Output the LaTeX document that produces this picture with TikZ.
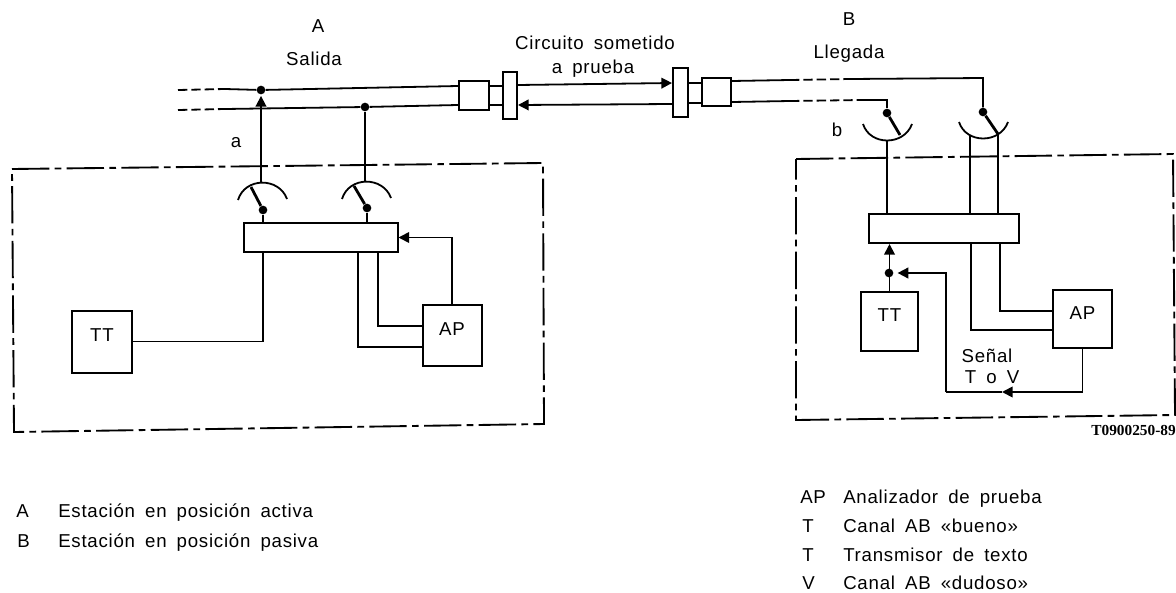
\documentclass[tikz,border=0pt]{standalone}
\usepackage{fontspec}
\setmainfont{Liberation Sans}[LetterSpace=4,WordSpace=1.7]
\newfontfamily\codigofont{Liberation Serif}
\usetikzlibrary{arrows.meta, calc}
\tikzset{
    trazo/.style={line width=1.35pt},
    flecha/.style={line width=1.35pt, -{Triangle[length=8pt,width=8pt]}},
    raya/.style={line width=1.35pt, dash pattern=on 7pt off 3pt},
    marco/.style={line width=1.4pt, dash pattern=on 28pt off 4pt on 5pt off 4pt},
    palanca/.style={line width=2.1pt},
    caja/.style 2 args={draw, line width=1.5pt, inner sep=0pt, minimum width=#1*0.75pt, minimum height=#2*0.75pt},
    cajatexto/.style 2 args={caja={#1}{#2}, font=\fontsize{14}{16}\selectfont, text height=9pt, text depth=9pt},
    punto/.style={circle, fill=black, inner sep=0pt, minimum size=6.5pt},
    rotulo/.style={font=\fontsize{14}{16}\selectfont, inner sep=0pt, anchor=base},
    leyenda/.style={font=\fontsize{14}{16}\selectfont, inner sep=0pt, anchor=base west}
}
\begin{document}
\begin{tikzpicture}[x=0.75pt,y=-0.75pt]
\useasboundingbox (0,0) rectangle (1176,592);
% estaciones
\draw[marco] (12,169) -- (543,163) -- (544,424) -- (14,432) -- cycle;
\draw[marco] (796,159) -- (1173,154) -- (1175,415) -- (796,420) -- cycle;
\node[caja={154}{29}] (cajaA) at (320.5,237.5) {};
\node[caja={150}{29}] (cajaB) at (944,228.5) {};
\node[cajatexto={60}{62}] (ttA) at (102,341.5) {TT};
\node[cajatexto={59}{61}] (apA) at (452,335.5) {AP};
\node[cajatexto={57}{59}] (ttB) at (889.5,321.5) {TT};
\node[cajatexto={59}{58}] (apB) at (1082.5,319) {AP};
% circuito
\node[caja={30}{29}] (conA) at (474,95.5) {};
\node[caja={14}{47}] (barraA) at (510,95.5) {};
\node[caja={15}{49}] (barraB) at (680.5,92.5) {};
\node[caja={29}{28}] (conB) at (716.5,92) {};
\node[punto] (puntoA1) at (261,90) {};
\node[punto] (puntoA2) at (365,107) {};
\node[punto] (pivA1) at (263,210) {};
\node[punto] (pivA2) at (367,208) {};
\node[punto] (pivB1) at (887,113) {};
\node[punto] (pivB2) at (983,112) {};
\node[punto] (puntoB) at (889,273) {};
\coordinate (corteA1) at (225,89);
\coordinate (corteA2) at (225,109);
\coordinate (corteB1) at (790,80);
\coordinate (corteB2) at (790,101);
\coordinate (sigueB1) at (850,79);
\coordinate (sigueB2) at (862,100);
\coordinate (giroB1) at (983,78);
\coordinate (giroB2) at (887,100);
\coordinate (cimaA1) at (261,183);
\coordinate (cimaA2) at (365,182);
\coordinate (fondoB1) at (887,140);
\coordinate (hiloB1) at (970,135);
\coordinate (hiloB2) at (998,134);
\coordinate (medioB) at (1002,392);
\coordinate (giroB) at (946,392);
% lineas
\draw[raya] (178,90) -- (corteA1);
\draw[raya] (178,110) -- (corteA2);
\draw[trazo] (corteA1) -- (puntoA1) -- (conA.west |- 0,86);
\draw[trazo] (corteA2) -- (puntoA2) -- (conA.west |- 0,105);
\draw[trazo] (conA.east |- 0,86) -- (barraA.west |- 0,86);
\draw[trazo] (conA.east |- 0,105) -- (barraA.west |- 0,105);
\draw[flecha] (barraA.east |- 0,85) -- (barraB.west |- 0,83);
\draw[flecha] (barraB.west |- 0,104) -- (barraA.east |- 0,105);
\draw[trazo] (barraB.east |- 0,83) -- (conB.west |- 0,83);
\draw[trazo] (barraB.east |- 0,103) -- (conB.west |- 0,103);
\draw[trazo] (conB.east |- 0,81) -- (corteB1);
\draw[trazo] (conB.east |- 0,102) -- (corteB2);
\draw[raya] (corteB1) -- (sigueB1);
\draw[raya] (corteB2) -- (sigueB2);
\draw[trazo] (sigueB1) -- (giroB1) -- (pivB2);
\draw[trazo] (sigueB2) -- (giroB2) -- (pivB1);
% conmutadores
\foreach \cx/\cy in {262/183, 366/182} {
    \draw[trazo] (\cx-24,\cy+17) .. controls (\cx-17,\cy-6) and (\cx+17,\cy-6) .. (\cx+25,\cy+16);
}
\foreach \cx/\cy in {887/140, 983/138} {
    \draw[trazo] (\cx-24,\cy-16) .. controls (\cx-17,\cy+6) and (\cx+17,\cy+6) .. (\cx+25,\cy-16);
}
\draw[palanca] (pivA1) -- (251,187);
\draw[palanca] (pivA2) -- (354,186);
\draw[palanca] (pivB1) -- (900,135);
\draw[palanca] (pivB2) -- (998,134);
% conexiones
\draw[flecha] (cimaA1) -- ([yshift=-1pt]puntoA1.south);
\draw[trazo] (cimaA2) -- (puntoA2);
\draw[trazo] (pivA1) -- (pivA1 |- cajaA.north);
\draw[trazo] (pivA2) -- (pivA2 |- cajaA.north);
\draw[trazo] (ttA.east) -| (pivA1 |- cajaA.south);
\draw[trazo] ([yshift=7pt]apA.west) -| ([xshift=43pt]cajaA.south);
\draw[trazo] ([yshift=-8.5pt]apA.west) -| ([xshift=28pt]cajaA.south);
\draw[flecha] (apA.north) |- (cajaA.east);
\draw[trazo] (fondoB1) -- (fondoB1 |- cajaB.north);
\draw[trazo] (hiloB1) -- (hiloB1 |- cajaB.north);
\draw[trazo] (hiloB2) -- (hiloB2 |- cajaB.north);
\draw[flecha] (ttB.north) -- (ttB.north |- cajaB.south);
\draw[trazo] ([yshift=6pt]apB.west) -| ([xshift=42pt]cajaB.south);
\draw[trazo] ([yshift=-8pt]apB.west) -| ([xshift=20pt]cajaB.south);
\draw[flecha] (apB.south) |- (medioB);
\draw[trazo] (medioB) -- (giroB);
\draw[flecha] (giroB) |- ([xshift=3pt]puntoB.east);
% rotulos
\node[rotulo] (estA) at (318,33) {A};
\node[rotulo] (salida) at (314,65) {Salida};
\node[rotulo] (circuito) at (595,50) {Circuito sometido};
\node[rotulo] (prueba) at (593,74) {a prueba};
\node[rotulo] (estB) at (849,26) {B};
\node[rotulo] (llegada) at (849,59) {Llegada};
\node[rotulo] (ramaA) at (236,147) {a};
\node[rotulo] (ramaB) at (837,136) {b};
\node[rotulo] (senal) at (987,362) {Señal};
\node[rotulo] (toV) at (992,383) {T o V};
\node[font=\codigofont\bfseries\fontsize{11.5}{13}\selectfont, inner sep=0pt, anchor=base east] (codigo) at (1176,435) {T0900250-89};
% leyendas
\foreach \clave/\texto/\xpos/\xtxt/\ypos in {
    A/Estación en posición activa/16/58/517,
    B/Estación en posición pasiva/17/58/547,
    AP/Analizador de prueba/800/843/503,
    T/Canal AB «bueno»/802/843/532,
    T/Transmisor de texto/802/843/561,
    V/Canal AB «dudoso»/802/843/589
} {
    \node[leyenda] at (\xpos,\ypos) {\clave};
    \node[leyenda] at (\xtxt,\ypos) {\texto};
}
\end{tikzpicture}
\end{document}
